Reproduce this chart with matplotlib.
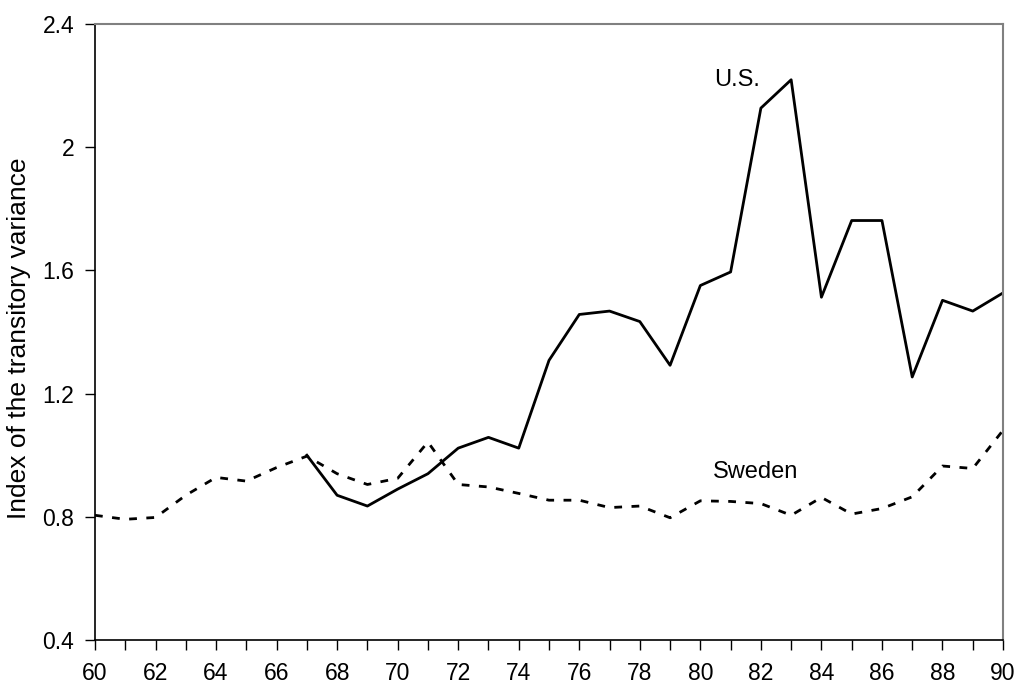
import matplotlib.pyplot as plt

plt.rcParams['font.family'] = ['Liberation Sans', 'DejaVu Sans']

years = list(range(60, 91))
us_years = list(range(67, 91))
us = [1.00, 0.87, 0.835, 0.89, 0.94, 1.023, 1.058, 1.023, 1.308, 1.457,
      1.468, 1.434, 1.292, 1.551, 1.595, 2.127, 2.219, 1.513, 1.762, 1.762,
      1.254, 1.503, 1.468, 1.527]
sweden = [0.805, 0.792, 0.798, 0.87, 0.928, 0.916, 0.96, 0.997, 0.94, 0.905,
          0.925, 1.043, 0.905, 0.897, 0.876, 0.854, 0.854, 0.83, 0.835, 0.797,
          0.852, 0.85, 0.843, 0.805, 0.863, 0.809, 0.827, 0.865, 0.965, 0.957,
          1.081]
yticks = [0.4, 0.8, 1.2, 1.6, 2.0, 2.4]
ytick_labels = ['0.4', '0.8', '1.2', '1.6', '2', '2.4']
xticks = list(range(60, 91, 2))

fig = plt.figure(figsize=(10.18, 6.86), dpi=100)
ax = fig.add_axes([0.0933, 0.067, 0.892, 0.898])

ax.plot(us_years, us, color='black', lw=2)
ax.plot(years, sweden, color='black', lw=2, linestyle=(0, (2.8, 3.4)))

ax.set_xlim(60, 90)
ax.set_ylim(0.4, 2.4)
ax.set_yticks(yticks)
ax.set_yticklabels(ytick_labels)
ax.set_xticks(xticks)
ax.set_xticks(years, minor=True)
ax.tick_params(axis='both', which='both', direction='out', length=7, width=1,
               colors='black')
ax.tick_params(axis='x', labelsize=16.5, pad=9)
ax.tick_params(axis='y', labelsize=16.5, pad=8)

for s in ['top', 'right']:
    ax.spines[s].set_color('#808080')
    ax.spines[s].set_linewidth(1.5)
for s in ['left', 'bottom']:
    ax.spines[s].set_color('black')
    ax.spines[s].set_linewidth(1.2)

ax.set_ylabel('Index of the transitory variance', fontsize=19)
ax.yaxis.set_label_coords(-0.071, 0.49)
ax.text(81.2, 2.218, 'U.S.', fontsize=17, ha='center', va='center')
ax.text(81.83, 0.945, 'Sweden', fontsize=17, ha='center', va='center')

fig.savefig('out.png', dpi=100)
